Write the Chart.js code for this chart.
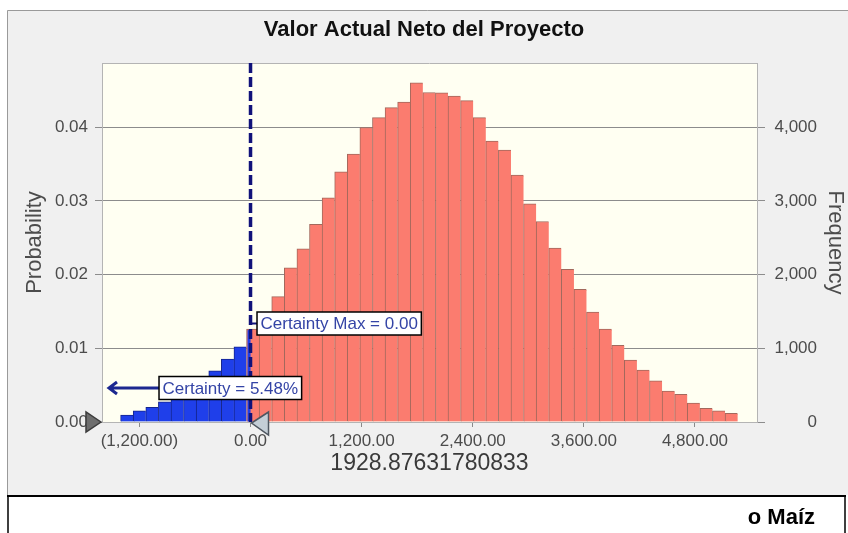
<!DOCTYPE html>
<html lang="en">
<head>
<meta charset="UTF-8">
<title>Valor Actual Neto del Proyecto</title>
<script src="https://cdn.jsdelivr.net/npm/chart.js"></script>
<style>
  html, body { margin: 0; padding: 0; background: #fff; }
  #wrap { width: 848px; height: 533px; }
</style>
</head>
<body>
<div id="wrap"><canvas id="vanChart" width="848" height="533"></canvas></div>
<script>
// histogram of the simulated NPV (100,000 trials)
const chartTitle = 'Valor Actual Neto del Proyecto';
const xTitle = '1928.87631780833';
const footText = 'o Maíz';
const trials = 100000;
const binStart = -1403;
const binWidth = 136;
const frequency = [
  95, 150, 200, 275, 360, 450, 560, 695, 855, 1020,
  1260, 1470, 1700, 2090, 2350, 2680, 3040, 3395, 3635, 3995,
  4130, 4265, 4340, 4600, 4470, 4465, 4420, 4360, 4130, 3810,
  3690, 3350, 2960, 2720, 2360, 2070, 1800, 1490, 1260, 1040,
  840, 705, 560, 420, 375, 255, 185, 150, 118
];
const xTicks = [-1200, 0, 1200, 2400, 3600, 4800];
const probTicks = [0, 0.01, 0.02, 0.03, 0.04];
const freqTicks = [0, 1000, 2000, 3000, 4000];
const xMin = -1604, xMax = 5470;
const probMax = 0.0487;
const certaintyMax = 0;
const certaintyLabel = 'Certainty = 5.48%';
const certaintyMaxLabel = 'Certainty Max = 0.00';

const BLUE = '#1f3fea', BLUE_EDGE = '#14248c';
const RED = '#fb7c6f', RED_EDGE = '#a3685c';
const NAVY = '#10127a';
const FONT = "'Liberation Sans', Arial, sans-serif";

Chart.defaults.font.family = FONT;
Chart.defaults.color = '#4c4c4c';

function money(v) {
  const s = Math.abs(v).toLocaleString('en-US', {minimumFractionDigits: 2, maximumFractionDigits: 2});
  return v < 0 ? '(' + s + ')' : s;
}

function tagBox(ctx, text, left, yMid) {
  ctx.font = '17px ' + FONT;
  const w = ctx.measureText(text).width + 7;
  const h = 23;
  ctx.fillStyle = '#ffffff';
  ctx.fillRect(left, yMid - h / 2, w, h);
  ctx.strokeStyle = '#000';
  ctx.lineWidth = 1.5;
  ctx.strokeRect(left, yMid - h / 2, w, h);
  ctx.fillStyle = '#3444a6';
  ctx.textBaseline = 'middle';
  ctx.textAlign = 'left';
  ctx.fillText(text, left + 3.5, yMid + 1);
  return w;
}

function triangle(ctx, pts, fill, edge) {
  ctx.beginPath();
  ctx.moveTo(pts[0][0], pts[0][1]);
  ctx.lineTo(pts[1][0], pts[1][1]);
  ctx.lineTo(pts[2][0], pts[2][1]);
  ctx.closePath();
  ctx.fillStyle = fill;
  ctx.fill();
  ctx.strokeStyle = edge;
  ctx.lineWidth = 1.5;
  ctx.stroke();
}

const crystalExtras = {
  id: 'crystalExtras',
  beforeDraw(chart) {
    const {ctx, chartArea: a, width: w, height: h} = chart;
    ctx.save();
    ctx.fillStyle = '#ffffff';
    ctx.fillRect(0, 0, w, h);
    // grey panel
    ctx.fillStyle = '#f0f0f0';
    ctx.fillRect(7, 10, w - 7, 485);
    ctx.strokeStyle = '#9a9a9a';
    ctx.lineWidth = 1;
    ctx.beginPath();
    ctx.moveTo(7.5, 495);
    ctx.lineTo(7.5, 10.5);
    ctx.lineTo(w, 10.5);
    ctx.stroke();
    // plot background
    ctx.fillStyle = '#fffff2';
    ctx.fillRect(a.left, a.top, a.right - a.left, a.bottom - a.top);
    // footer box
    ctx.strokeStyle = '#000';
    ctx.lineWidth = 2;
    ctx.beginPath();
    ctx.moveTo(7, 496);
    ctx.lineTo(846, 496);
    ctx.stroke();
    ctx.lineWidth = 1.5;
    ctx.beginPath();
    ctx.moveTo(8, 496); ctx.lineTo(8, h);
    ctx.moveTo(845, 496); ctx.lineTo(845, h);
    ctx.stroke();
    ctx.fillStyle = '#000';
    ctx.font = 'bold 22px ' + FONT;
    ctx.textAlign = 'right';
    ctx.textBaseline = 'middle';
    ctx.fillText(footText, 815, 518);
    ctx.restore();
  },
  afterDatasetsDraw(chart) {
    const {ctx, chartArea: a} = chart;
    const x0 = chart.scales.x.getPixelForValue(certaintyMax);
    ctx.save();
    // part of the bin left of the certainty limit
    chart.getDatasetMeta(0).data.forEach(bar => {
      const {x, y, base, width} = bar.getProps(['x', 'y', 'base', 'width'], true);
      const l = x - width / 2;
      if (l < x0 && l + width > x0) {
        ctx.fillStyle = BLUE;
        ctx.fillRect(l + 1, y + 1, x0 - l - 1, base - y - 1);
      }
    });
    // top border of plot
    ctx.strokeStyle = '#b4b4b4';
    ctx.lineWidth = 1;
    ctx.beginPath();
    ctx.moveTo(a.left, a.top + 0.5);
    ctx.lineTo(a.right, a.top + 0.5);
    ctx.stroke();
    // certainty limit line
    ctx.strokeStyle = NAVY;
    ctx.lineWidth = 3.5;
    ctx.setLineDash([10, 4]);
    ctx.beginPath();
    ctx.moveTo(x0, a.top);
    ctx.lineTo(x0, a.bottom);
    ctx.stroke();
    ctx.restore();
  },
  afterDraw(chart) {
    const {ctx, chartArea: a} = chart;
    const x0 = chart.scales.x.getPixelForValue(certaintyMax);
    ctx.save();
    // certainty max tag
    const yMax = a.bottom - 98.5;
    ctx.strokeStyle = NAVY;
    ctx.lineWidth = 2;
    ctx.beginPath();
    ctx.moveTo(x0, yMax); ctx.lineTo(x0 + 7, yMax);
    ctx.stroke();
    tagBox(ctx, certaintyMaxLabel, x0 + 6.5, yMax);
    // certainty tag with arrow
    const yC = a.bottom - 34;
    const left = x0 - 91.5;
    ctx.strokeStyle = '#1c2890';
    ctx.lineWidth = 3;
    ctx.beginPath();
    ctx.moveTo(left, yC); ctx.lineTo(a.left + 7, yC);
    ctx.moveTo(a.left + 15, yC - 6); ctx.lineTo(a.left + 7, yC); ctx.lineTo(a.left + 15, yC + 6);
    ctx.stroke();
    tagBox(ctx, certaintyLabel, left, yC);
    // grabbers
    triangle(ctx, [[a.left - 1, a.bottom], [a.left - 16, a.bottom - 10], [a.left - 16, a.bottom + 10]], '#6e6e6e', '#3c3c3c');
    triangle(ctx, [[x0 + 1, a.bottom + 1], [x0 + 18, a.bottom - 10], [x0 + 18, a.bottom + 13]], '#c4ced6', '#4e5660');
    ctx.restore();
  }
};

new Chart(document.getElementById('vanChart'), {
  type: 'bar',
  data: {
    datasets: [{
      data: frequency.map((f, i) => ({x: binStart + binWidth * (i + 0.5), y: f})),
      yAxisID: 'y1',
      backgroundColor: c => (c.raw && c.raw.x < certaintyMax ? BLUE : RED),
      borderColor: c => (c.raw && c.raw.x < certaintyMax ? BLUE_EDGE : RED_EDGE),
      borderWidth: {top: 1, left: 1, right: 0, bottom: 0},
      barPercentage: 1,
      categoryPercentage: 1
    }]
  },
  options: {
    responsive: false,
    animation: false,
    // symmetric side padding keeps the title centred on the canvas
    layout: {padding: {left: 31, top: 0, bottom: 0, right: 31}},
    plugins: {
      legend: {display: false},
      tooltip: {enabled: false},
      title: {
        display: true,
        text: chartTitle,
        color: '#111',
        font: {size: 22, weight: 'bold'},
        padding: {top: 17, bottom: 19.6}
      }
    },
    scales: {
      x: {
        type: 'linear',
        offset: false,
        min: xMin,
        max: xMax,
        afterBuildTicks: s => { s.ticks = xTicks.map(v => ({value: v})); },
        afterFit: s => { s.height = 111; },
        grid: {offset: false, drawOnChartArea: false, drawTicks: true, tickLength: 5, color: '#8a8a8a'},
        border: {color: '#b4b4b4'},
        ticks: {padding: 4, autoSkip: false, maxRotation: 0, font: {size: 17}, callback: v => money(v)},
        title: {display: true, text: xTitle, color: '#3a3a3a', font: {size: 23}, padding: {top: 0, bottom: 56}}
      },
      y: {
        position: 'left',
        min: 0,
        max: probMax,
        afterBuildTicks: s => { s.ticks = probTicks.map(v => ({value: v})); },
        afterFit: s => { s.width = 71; },
        grid: {color: '#8c8c8c', tickLength: 7},
        border: {color: '#b4b4b4'},
        ticks: {padding: 7, font: {size: 17}, callback: v => v.toFixed(2)},
        title: {display: true, text: 'Probability', color: '#4c4c4c', font: {size: 22}, padding: {top: -9, bottom: 0}}
      },
      y1: {
        position: 'right',
        min: 0,
        max: probMax * trials,
        afterBuildTicks: s => { s.ticks = freqTicks.map(v => ({value: v})); },
        afterFit: s => { s.width = 60; },
        grid: {drawOnChartArea: false, tickLength: 8, color: '#8c8c8c'},
        border: {color: '#b4b4b4'},
        ticks: {padding: 9, crossAlign: 'far', font: {size: 17}, callback: v => v.toLocaleString('en-US')},
        title: {display: true, text: 'Frequency', color: '#4c4c4c', font: {size: 22}, padding: {top: -31, bottom: 0}}
      }
    }
  },
  plugins: [crystalExtras]
});
</script>
</body>
</html>
